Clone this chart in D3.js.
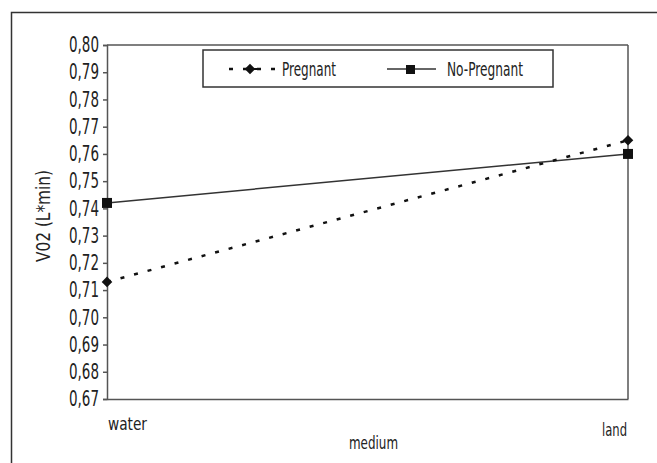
<!DOCTYPE html>
<html>
<head>
<meta charset="utf-8">
<script src="https://cdn.jsdelivr.net/npm/d3@7"></script>
<style>
  body { margin: 0; background: #fff; }
  svg text { font-family: "DejaVu Sans", sans-serif; fill: #222; }
</style>
</head>
<body>
<svg id="chart" width="657" height="463"></svg>
<script>
// categories on the x axis
const media = ["water", "land"];
// VO2 values
const pregnant = [0.713, 0.765];
const noPregnant = [0.742, 0.760];
const yTicks = d3.range(67, 81).map(d => d / 100);

const svg = d3.select("#chart");
const plotLeft = 107, plotRight = 628, plotTop = 45, plotBottom = 399;

// the original uses a very narrow face, so squeeze the glyphs to a width
function narrow(sel, w) {
  sel.attr("textLength", w).attr("lengthAdjust", "spacingAndGlyphs");
  return sel;
}

// outer frame, cut off on the right and bottom
svg.append("rect")
  .attr("x", 11.5).attr("y", 12.5)
  .attr("width", 700).attr("height", 500)
  .attr("fill", "none").attr("stroke", "#333").attr("stroke-width", 1.5);

const x = d3.scalePoint().domain(media).range([plotLeft, plotRight]);
const y = d3.scaleLinear().domain([0.67, 0.80]).range([plotBottom, plotTop]);

// plot box
svg.append("line").attr("x1", plotLeft).attr("x2", plotRight).attr("y1", plotTop).attr("y2", plotTop)
  .attr("stroke", "#555").attr("stroke-width", 1.5);
svg.append("line").attr("x1", plotRight).attr("x2", plotRight).attr("y1", plotTop).attr("y2", plotBottom)
  .attr("stroke", "#555").attr("stroke-width", 1.5);

const yAxis = svg.append("g")
  .attr("transform", `translate(${plotLeft},0)`)
  .call(d3.axisLeft(y).tickValues(yTicks).tickSize(4).tickPadding(4)
    .tickFormat(d => d3.format(".2f")(d).replace(".", ",")));
narrow(yAxis.selectAll("text").style("font-size", "21px").attr("fill", "#222"), 30);
yAxis.selectAll("line, path").attr("stroke", "#555").attr("stroke-width", 1.5);

const xAxis = svg.append("g")
  .attr("transform", `translate(0,${plotBottom})`)
  .call(d3.axisBottom(x).tickSize(0).tickFormat(""));
xAxis.select(".domain").attr("stroke", "#555").attr("stroke-width", 1.5);

// category labels
narrow(svg.append("text").attr("x", x("water") + 1).attr("y", 430)
  .style("font-size", "18px").text("water"), 39);
narrow(svg.append("text").attr("x", x("land") - 26).attr("y", 436)
  .style("font-size", "18px").text("land"), 25);
narrow(svg.append("text").attr("x", 349).attr("y", 449)
  .style("font-size", "18px").text("medium"), 49);

narrow(svg.append("text")
  .attr("transform", "translate(50,262) rotate(-90)")
  .style("font-size", "20px")
  .text("V02 (L*min)"), 92);

const line = d3.line().x((d, i) => x(media[i])).y(d => y(d));

svg.append("path").datum(noPregnant).attr("d", line)
  .attr("fill", "none").attr("stroke", "#333").attr("stroke-width", 1.5);
svg.append("path").datum(pregnant).attr("d", line)
  .attr("fill", "none").attr("stroke", "#111").attr("stroke-width", 2.5)
  .attr("stroke-dasharray", "4,10");

svg.selectAll(".sq").data(noPregnant).enter().append("rect")
  .attr("x", (d, i) => x(media[i]) - 5).attr("y", d => y(d) - 5)
  .attr("width", 10).attr("height", 10).attr("fill", "#111");
const diamond = d3.symbol().type(d3.symbolSquare).size(56);
svg.selectAll(".dm").data(pregnant).enter().append("path")
  .attr("d", diamond)
  .attr("transform", (d, i) => `translate(${x(media[i])},${y(d)}) rotate(45)`)
  .attr("fill", "#111");

// legend
const lg = svg.append("g").attr("transform", "translate(203,50)");
lg.append("rect").attr("width", 350).attr("height", 37)
  .attr("fill", "#fff").attr("stroke", "#333").attr("stroke-width", 1.5);
lg.append("line").attr("x1", 24).attr("x2", 73).attr("y1", 19).attr("y2", 19)
  .attr("stroke", "#111").attr("stroke-width", 2.5).attr("stroke-dasharray", "4,10")
  .attr("stroke-dashoffset", -2);
lg.append("line").attr("x1", 40).attr("x2", 55).attr("y1", 19).attr("y2", 19)
  .attr("stroke", "#111").attr("stroke-width", 2);
lg.append("path").attr("d", diamond).attr("transform", "translate(47,19) rotate(45)").attr("fill", "#111");
narrow(lg.append("text").attr("x", 79).attr("y", 26).style("font-size", "19px").text("Pregnant"), 54);
lg.append("line").attr("x1", 184).attr("x2", 233).attr("y1", 19).attr("y2", 19)
  .attr("stroke", "#333").attr("stroke-width", 1.5);
lg.append("rect").attr("x", 203).attr("y", 15).attr("width", 9).attr("height", 9).attr("fill", "#111");
narrow(lg.append("text").attr("x", 244).attr("y", 26).style("font-size", "19px").text("No-Pregnant"), 76);
</script>
</body>
</html>
